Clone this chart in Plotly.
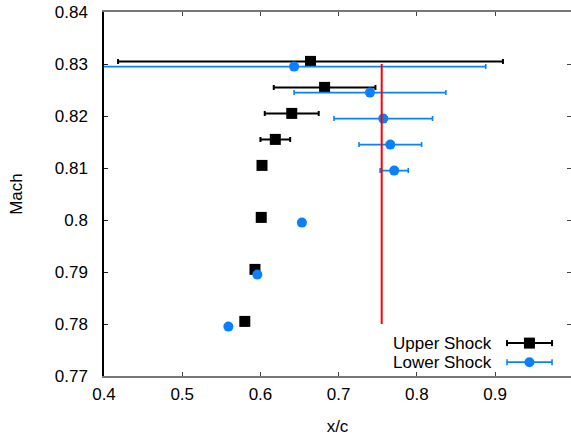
import plotly.graph_objects as go

# ---- data ----
mach_upper = [0.8305, 0.8255, 0.8205, 0.8155, 0.8105, 0.8005, 0.7905, 0.7805]
xc_upper = [0.664, 0.682, 0.640, 0.619, 0.602, 0.601, 0.593, 0.580]
err_upper = [0.246, 0.065, 0.0345, 0.019, 0.005, 0.0, 0.0, 0.0]

mach_lower = [0.8295, 0.8245, 0.8195, 0.8145, 0.8095, 0.7995, 0.7895, 0.7795]
xc_lower = [0.643, 0.740, 0.757, 0.766, 0.771, 0.653, 0.596, 0.559]
err_lower = [0.245, 0.097, 0.063, 0.040, 0.018, 0.0, 0.0, 0.0]

ref_line_x = [0.755, 0.755]
ref_line_y = [0.78, 0.83]

x_ticks = [0.4, 0.5, 0.6, 0.7, 0.8, 0.9, 1.0]
x_tick_labels = ["0.4", "0.5", "0.6", "0.7", "0.8", "0.9", "1"]
y_ticks = [0.77, 0.78, 0.79, 0.80, 0.81, 0.82, 0.83, 0.84]
y_tick_labels = ["0.77", "0.78", "0.79", "0.8", "0.81", "0.82", "0.83", "0.84"]

series_names = ["Upper Shock", "Lower Shock"]

# ---- styling ----
FONT = "Liberation Sans, Arial, Helvetica, sans-serif"
FS = 17
BLACK = "#000000"
BLUE = "#0a80ff"
RED = "#ff0000"

fig = go.Figure()

fig.add_trace(go.Scatter(
    x=xc_upper, y=mach_upper, mode="markers", name=series_names[0],
    marker=dict(symbol="square", size=11, color=BLACK),
    error_x=dict(type="data", array=err_upper, visible=True,
                 color=BLACK, thickness=2, width=2.5),
    showlegend=False,
))
fig.add_trace(go.Scatter(
    x=xc_lower, y=mach_lower, mode="markers", name=series_names[1],
    marker=dict(symbol="circle", size=10, color=BLUE),
    error_x=dict(type="data", array=err_lower, visible=True,
                 color=BLUE, thickness=1.6, width=2.5),
    showlegend=False,
))
fig.add_trace(go.Scatter(
    x=ref_line_x, y=ref_line_y, mode="lines",
    line=dict(color=RED, width=2), showlegend=False, hoverinfo="skip",
))
# dummy trace so the right-side mirror tick axis is drawn
fig.add_trace(go.Scatter(x=[None], y=[None], yaxis="y2", showlegend=False,
                         hoverinfo="skip"))

# ---- manual legend (gnuplot style: text left, sample right) ----
rows = [(0.0904, BLACK, "square", 2.0), (0.038, BLUE, "circle", 1.6)]
sx0, sx1, smid, tx = 0.863, 0.9594, 0.911, 0.835
shapes = []
annotations = []
for (ry, col, sym, th), name in zip(rows, series_names):
    shapes.append(dict(type="line", xref="paper", yref="paper",
                       x0=sx0, x1=sx1, y0=ry, y1=ry,
                       line=dict(color=col, width=th)))
    for ex in (sx0, sx1):
        shapes.append(dict(type="line", xref="paper", yref="paper",
                           ysizemode="pixel", yanchor=ry, y0=-3, y1=3,
                           x0=ex, x1=ex, line=dict(color=col, width=th)))
    if sym == "square":
        shapes.append(dict(type="rect", xref="paper", yref="paper",
                           xsizemode="pixel", ysizemode="pixel",
                           xanchor=smid, yanchor=ry,
                           x0=-5.5, x1=5.5, y0=-5.5, y1=5.5,
                           fillcolor=col, line=dict(width=0)))
    else:
        shapes.append(dict(type="circle", xref="paper", yref="paper",
                           xsizemode="pixel", ysizemode="pixel",
                           xanchor=smid, yanchor=ry,
                           x0=-5, x1=5, y0=-5, y1=5,
                           fillcolor=col, line=dict(width=0)))
    annotations.append(dict(text=name, xref="paper", yref="paper",
                            x=tx, y=ry, xanchor="right", yanchor="middle",
                            showarrow=False,
                            font=dict(family=FONT, size=FS, color=BLACK)))

fig.update_layout(
    width=571, height=436,
    margin=dict(l=104, r=0, t=12, b=60, pad=0),
    paper_bgcolor="white", plot_bgcolor="white",
    font=dict(family=FONT, size=FS, color=BLACK),
    shapes=shapes, annotations=annotations,
    xaxis=dict(
        range=[0.4, 0.997], tickvals=x_ticks, ticktext=x_tick_labels,
        ticks="inside", ticklen=4, tickcolor="#444", tickwidth=1,
        showline=True, linecolor="#777", linewidth=1.5, mirror="ticks",
        showgrid=False, zeroline=False, ticklabelstandoff=2,
        title=dict(text="x/c", standoff=19, font=dict(size=FS)),
    ),
    yaxis=dict(
        range=[0.77, 0.84], tickvals=y_ticks, ticktext=y_tick_labels,
        ticks="inside", ticklen=4, tickcolor="#222", tickwidth=1,
        showline=True, linecolor=BLACK, linewidth=1.5,
        showgrid=False, zeroline=False, ticklabelstandoff=11,
        title=dict(text="Mach", standoff=28, font=dict(size=FS)),
    ),
    yaxis2=dict(
        overlaying="y", side="right", range=[0.77, 0.84], tickvals=y_ticks,
        ticks="inside", ticklen=4, tickcolor="#444", showticklabels=False,
        showline=False, showgrid=False, zeroline=False,
    ),
)

fig.write_html("out.html")
